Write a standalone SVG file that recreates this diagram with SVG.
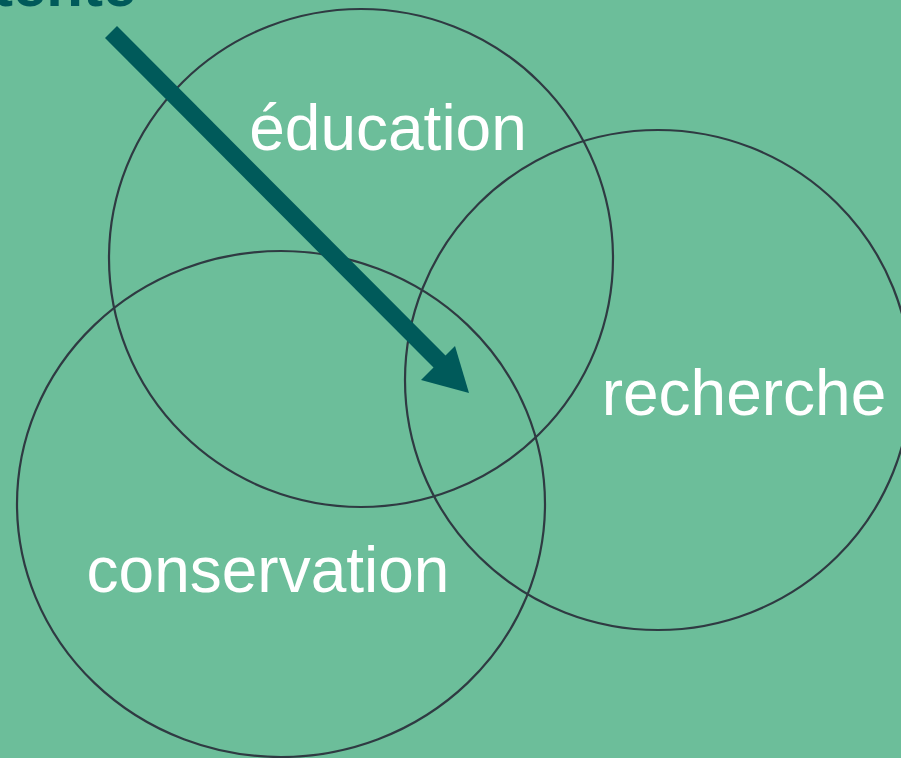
<svg xmlns="http://www.w3.org/2000/svg" width="901" height="758" viewBox="0 0 901 758">
<style>
.c{fill:none;stroke:#2f3a42;stroke-width:2.2}
.t{fill:#ffffff;font-family:"Liberation Sans",Arial,sans-serif;font-size:64px}
</style>
<rect width="901" height="758" fill="#6cbe9a"/>
<text x="-7" y="6" font-family="Liberation Sans,Arial,sans-serif" font-weight="bold" font-size="60" fill="#005a5a">tente</text>
<g id="education"><ellipse class="c" cx="361" cy="258" rx="252" ry="249"/><text class="t" x="388" y="150" text-anchor="middle">éducation</text></g>
<g id="recherche"><ellipse class="c" cx="658" cy="380" rx="253" ry="250"/><text class="t" x="744" y="415" text-anchor="middle">recherche</text></g>
<g id="conservation"><ellipse class="c" cx="281" cy="504" rx="264" ry="253"/><text class="t" x="268" y="592" text-anchor="middle">conservation</text></g>
<g id="connectors">
<line x1="111" y1="32" x2="440" y2="362" stroke="#005a5a" stroke-width="17"/>
<polygon points="421,380 455,346 469,393" fill="#005a5a"/>
</g>
</svg>
